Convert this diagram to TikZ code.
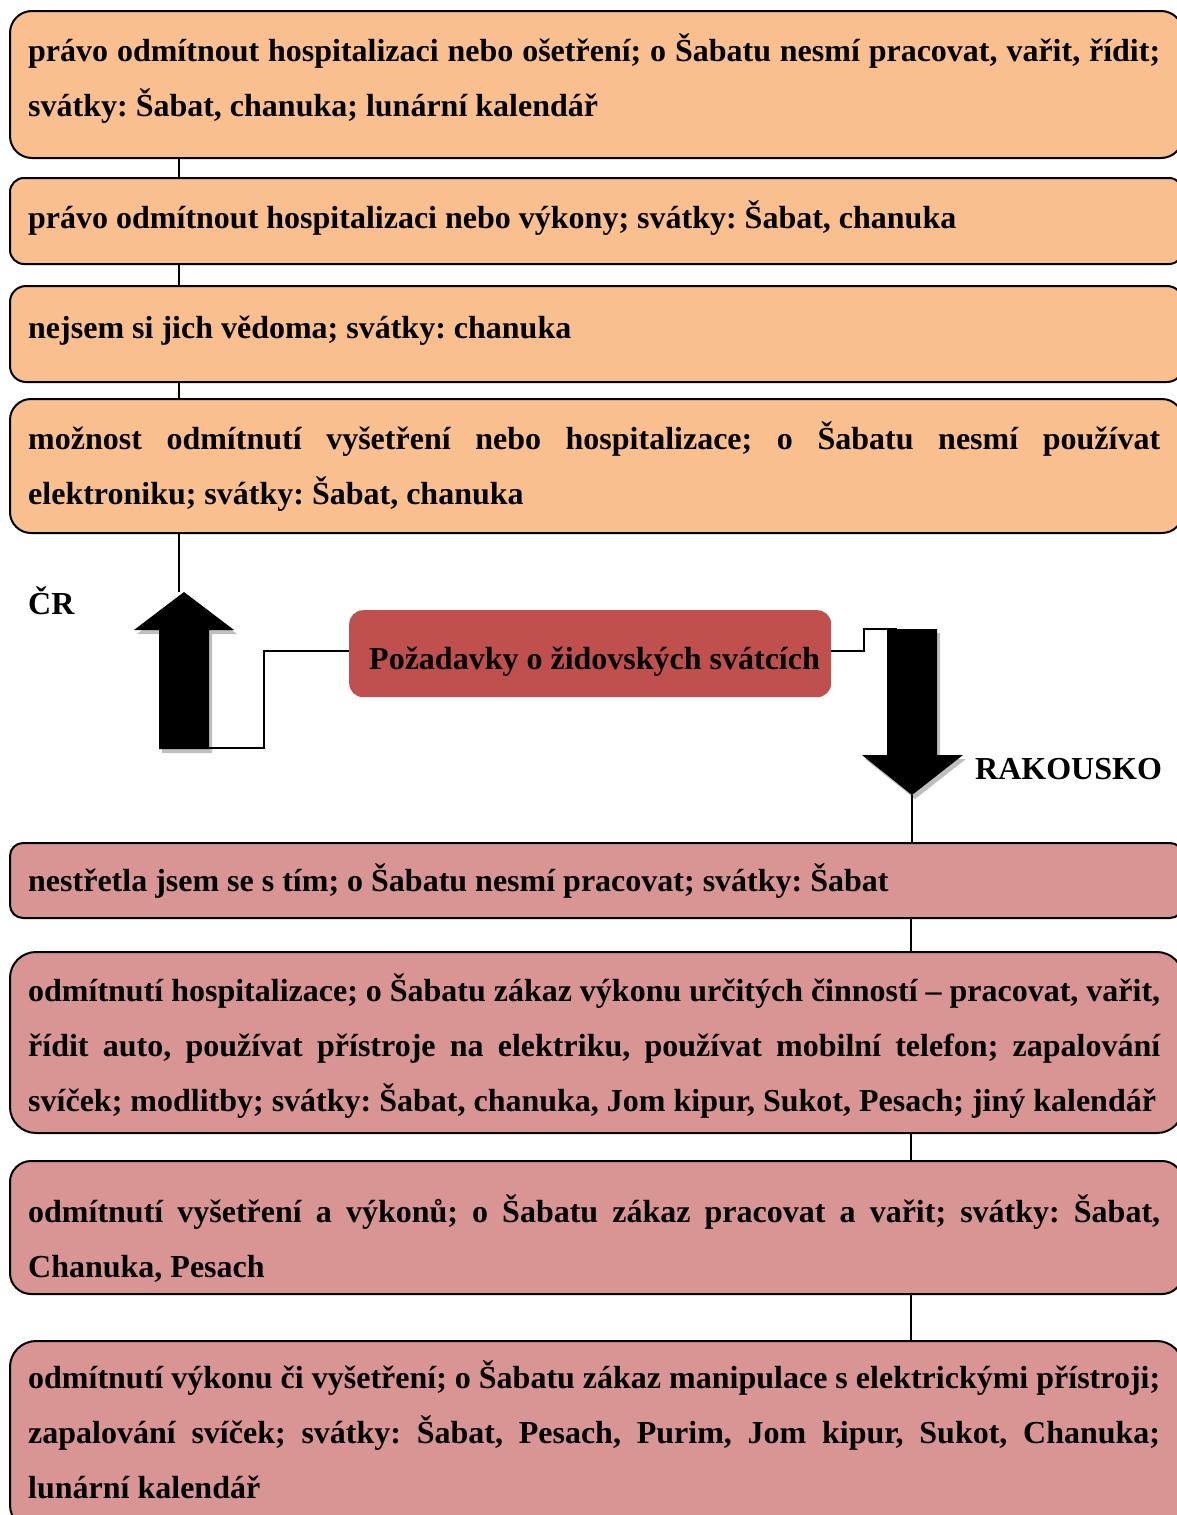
\documentclass[tikz,border=0pt]{standalone}
\usepackage{fontspec}
\setmainfont{Liberation Serif}
\frenchspacing
\begin{document}
\definecolor{orangebox}{HTML}{FABF8F}
\definecolor{pinkbox}{HTML}{D99594}
\definecolor{redbox}{HTML}{C0504D}
\definecolor{arrowshade}{HTML}{BFBFBF}
\begin{tikzpicture}[x=1pt,y=-1pt,
  lbox/.style={draw=black, line width=2pt, inner sep=0pt, anchor=north west},
  obox/.style={lbox, fill=orangebox},
  pbox/.style={lbox, fill=pinkbox},
  txt/.style={inner sep=0pt, anchor=base west, text width=1132pt, align=justify,
    font=\bfseries\fontsize{32}{55}\selectfont},
  lbl/.style={inner sep=0pt, anchor=base west, font=\bfseries\fontsize{32}{38}\selectfont},
  link/.style={draw=black, line width=2pt},
  bigarrow/.style={fill=black},
  arrowshadow/.style={fill=arrowshade}
]
\useasboundingbox (0,0) rectangle (1176,1515);
\hyphenpenalty=10000
\exhyphenpenalty=10000
\frenchspacing

% upper boxes
\node[obox, minimum width=1173pt, minimum height=147pt, rounded corners=22pt] (b1) at (9,10) {};
\node[obox, minimum width=1173pt, minimum height=86pt, rounded corners=14pt] (b2) at (9,177) {};
\node[obox, minimum width=1173pt, minimum height=96pt, rounded corners=16pt] (b3) at (9,285) {};
\node[obox, minimum width=1173pt, minimum height=134pt, rounded corners=21pt] (b4) at (9,398) {};

\node[txt] (t1) at (28,61) {právo odmítnout hospitalizaci nebo ošetření; o Šabatu nesmí pracovat, vařit, řídit;\linebreak svátky: Šabat, chanuka; lunární kalendář};
\node[txt] (t2) at (28,228) {právo odmítnout hospitalizaci nebo výkony; svátky: Šabat, chanuka};
\node[txt] (t3) at (28,338) {nejsem si jich vědoma; svátky: chanuka};
\node[txt] (t4) at (28,449) {možnost odmítnutí vyšetření nebo hospitalizace; o Šabatu nesmí používat\linebreak elektroniku; svátky: Šabat, chanuka};

% lower boxes
\node[pbox, minimum width=1173pt, minimum height=75pt, rounded corners=13pt] (b5) at (9,842) {};
\node[pbox, minimum width=1173pt, minimum height=181pt, rounded corners=26pt] (b6) at (9,951) {};
\node[pbox, minimum width=1173pt, minimum height=133pt, rounded corners=21pt] (b7) at (9,1160) {};
\node[pbox, minimum width=1173pt, minimum height=190pt, rounded corners=26pt] (b8) at (9,1340) {};

\node[txt] (t5) at (28,891) {nestřetla jsem se s tím; o Šabatu nesmí pracovat; svátky: Šabat};
\node[txt] (t6) at (28,1001) {odmítnutí hospitalizace; o Šabatu zákaz výkonu určitých činností – pracovat, vařit,\linebreak řídit auto, používat přístroje na elektriku, používat mobilní telefon; zapalování\linebreak svíček; modlitby; svátky: Šabat, chanuka, Jom kipur, Sukot, Pesach; jiný kalendář};
\node[txt] (t7) at (28,1222) {odmítnutí vyšetření a výkonů; o Šabatu zákaz pracovat a vařit; svátky: Šabat,\linebreak Chanuka, Pesach};
\node[txt] (t8) at (28,1388) {odmítnutí výkonu či vyšetření; o Šabatu zákaz manipulace s elektrickými přístroji;\linebreak zapalování svíček; svátky: Šabat, Pesach, Purim, Jom kipur, Sukot, Chanuka;\linebreak lunární kalendář};

% central node
\node[fill=redbox, rounded corners=14pt, minimum width=482pt, minimum height=87pt, inner sep=0pt, anchor=north west] (cn) at (349,610) {};
\node[lbl] (ct) at (369,669) {Požadavky o židovských svátcích};

% side labels
\node[lbl] (cr) at (28,614) {ČR};
\node[lbl] (at) at (975,779) {RAKOUSKO};

% connector columns
\coordinate (lx) at (179,0);
\coordinate (rx) at (911,0);

% upward arrow (left)
\coordinate (upTip) at (184,592);
\coordinate (upFoot) at (184,748);
\fill[arrowshadow] (162,753) -- (162,634) -- (137,634) -- (187,596) -- (237,634) -- (212,634) -- (212,753) -- cycle;
\fill[bigarrow] (159,749) -- (159,630) -- (134,630) -- (upTip) -- (234,630) -- (209,630) -- (209,749) -- cycle;

% downward arrow (right)
\coordinate (dnTip) at (912,795);
\coordinate (dnTop) at (897,629);
\fill[arrowshadow] (890,633) -- (940,633) -- (940,759) -- (966,759) -- (915,799) -- (865,759) -- (890,759) -- cycle;
\fill[bigarrow] (887,629) -- (937,629) -- (937,755) -- (963,755) -- (dnTip) -- (862,755) -- (887,755) -- cycle;

% connectors upper column
\path[link] (b1.south -| lx) -- (b2.north -| lx);
\path[link] (b2.south -| lx) -- (b3.north -| lx);
\path[link] (b3.south -| lx) -- (b4.north -| lx);
\path[link] (b4.south -| lx) -- (upTip -| lx);

% connectors lower column
\path[link] (dnTip) -- (b5.north -| dnTip);
\path[link] (b5.south -| rx) -- (b6.north -| rx);
\path[link] (b6.south -| rx) -- (b7.north -| rx);
\path[link] (b7.south -| rx) -- (b8.north -| rx);

% connectors from central node to arrows
\path[link] (cn.west |- 0,651) -- (264,651) -- (264,748) -- (upFoot);
\path[link] (cn.east |- 0,651) -- (864,651) -- (864,629) -- (dnTop);
\end{tikzpicture}
\end{document}
